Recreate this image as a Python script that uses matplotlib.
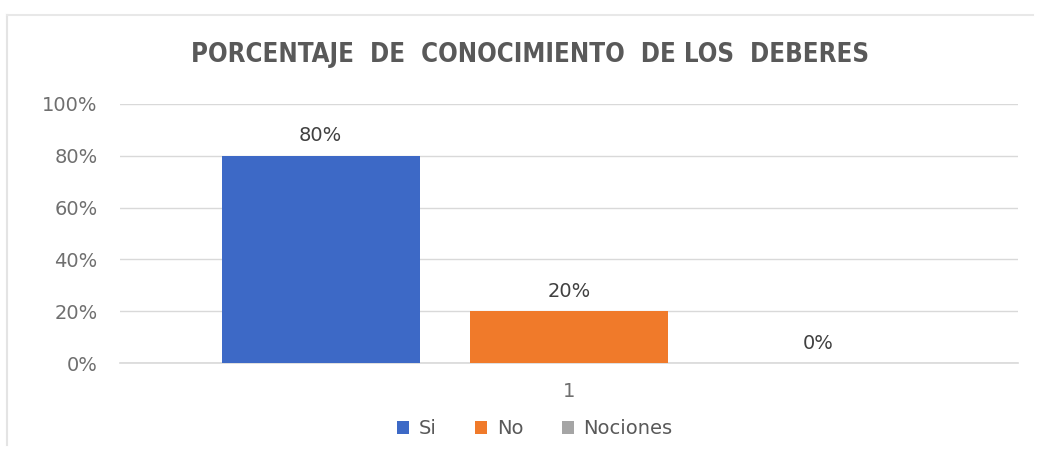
import matplotlib.pyplot as plt
from matplotlib.lines import Line2D
from matplotlib.ticker import FuncFormatter

# datos
categoria = ["1"]
series = ["Si", "No", "Nociones"]
valores = [80, 20, 0]
colores = ["#3D69C6", "#F07A2A", "#A5A5A5"]
yticks = [0, 20, 40, 60, 80, 100]

fig = plt.figure(figsize=(10.38, 4.5), dpi=100)
ax = fig.add_axes([0.1156, 0.1933, 0.8654, 0.5756])

# marco exterior tenue
fig.add_artist(Line2D([7/1038, 7/1038], [5/450, 435/450], color="#E4E4E4", lw=1.5))
fig.add_artist(Line2D([7/1038, 1033/1038], [435/450, 435/450], color="#E8E8E8", lw=1.5))

ancho = 0.2205
paso = 0.2767
for i, (s, v, c) in enumerate(zip(series, valores, colores)):
    x = (i - 1) * paso
    ax.bar(x, v, width=ancho, color=c, label=s, zorder=3)
    ax.text(x, v + 4, str(v) + "%", ha="center", va="bottom",
            fontsize=14, color="#404040")

ax.set_xlim(-0.5, 0.5)
ax.set_ylim(0, 100)
ax.set_yticks(yticks)
ax.yaxis.set_major_formatter(FuncFormatter(lambda v, p: "%d%%" % v))
ax.set_xticks([0])
ax.set_xticklabels(categoria)
ax.tick_params(axis="both", length=0, labelsize=14, colors="#6F6F6F", pad=16)
ax.tick_params(axis="x", pad=14)
ax.grid(axis="y", color="#D9D9D9", lw=1, zorder=0)
ax.axhline(0, color="#D9D9D9", lw=1.2, zorder=1, clip_on=False)
for sp in ax.spines.values():
    sp.set_visible(False)

fig.text(530/1038, 1 - 55/450, "PORCENTAJE  DE  CONOCIMIENTO  DE LOS  DEBERES",
         family="DejaVu Sans", fontstretch="condensed", fontweight="bold",
         fontsize=18.5, color="#595959", ha="center", va="center")

ax.legend(loc="upper center", bbox_to_anchor=(0.462, -0.15), ncol=3, frameon=False,
          fontsize=14, handlelength=0.6, handleheight=0.6, handletextpad=0.5,
          columnspacing=2.0, labelcolor="#595959")

fig.savefig("out.png", dpi=100, facecolor="white")
